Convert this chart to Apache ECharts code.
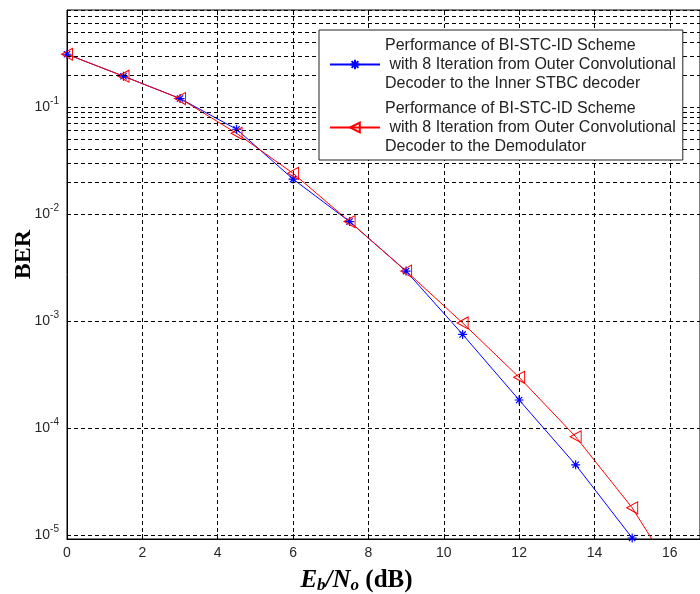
<!DOCTYPE html>
<html lang="en">

<head>
    <meta charset="UTF-8">
    <title>BER</title>
    <style>
        body {
            margin: 0;
            background: #fff;
        }

        .main {
            width: 700px;
            height: 594px;
        }
    </style>
    <script src="https://cdn.jsdelivr.net/npm/echarts@6/dist/echarts.min.js"></script>
</head>

<body>
    <div class="main"></div>
    <script>
        // Eb/No (dB)
        var snrBlue = [0, 1.5, 3, 4.5, 6, 7.5, 9, 10.5, 12, 13.5, 15];
        var snrRed = [0, 1.5, 3, 4.5, 6, 7.5, 9, 10.5, 12, 13.5, 15, 16.5];
        // BER values
        var berBlue = [0.311, 0.194, 0.12, 0.062, 0.0212, 0.0085, 0.00293, 7.5e-4, 1.83e-4, 4.54e-5, 9.4e-6];
        var berRed = [0.311, 0.194, 0.12, 0.0568, 0.024, 0.0085, 0.00293, 9.6e-4, 2.98e-4, 8.3e-5, 1.8e-5, 2.6e-6];
        var xTicks = [0, 2, 4, 6, 8, 10, 12, 14, 16];
        // log grid: 2..9 in every decade
        var minorSteps = [2, 3, 4, 5, 6, 7, 8, 9];
        var decades = [-5, -4, -3, -2, -1];

        var nameBlue = 'Performance of BI-STC-ID Scheme\n with 8 Iteration from Outer Convolutional\nDecoder to the Inner STBC decoder';
        var nameRed = 'Performance of BI-STC-ID Scheme\n with 8 Iteration from Outer Convolutional\nDecoder to the Demodulator';

        var gridDash = {
            color: '#000',
            width: 1,
            type: [4, 3]
        };

        var minorLines = [];
        decades.forEach(function (e) {
            minorSteps.forEach(function (k) {
                minorLines.push({ yAxis: k * Math.pow(10, e) });
            });
        });

        function pairs(xs, ys) {
            return xs.map(function (x, i) { return [x, ys[i]]; });
        }

        var myChart = echarts.init(document.querySelector('.main'));

        var option = {
            animation: false,
            textStyle: { fontFamily: 'Liberation Sans' },
            grid: {
                left: 67,
                right: 0,
                top: 10,
                bottom: 55,
                outerBoundsMode: 'none',
                show: true,
                borderColor: '#000',
                borderWidth: 1
            },
            legend: {
                left: 319,
                top: 30,
                z: 20,
                orient: 'vertical',
                backgroundColor: '#fff',
                borderColor: '#222',
                borderWidth: 1,
                padding: [6, 7, 4, 10],
                itemGap: 6,
                itemWidth: 50,
                itemHeight: 12,
                textStyle: {
                    fontFamily: 'Liberation Sans',
                    fontSize: 16,
                    lineHeight: 19,
                    color: '#222'
                },
                data: [nameBlue, nameRed]
            },
            xAxis: [{
                type: 'value',
                min: 0,
                max: 16.8,
                interval: 2,
                name: '{i|E}{is|b}{i|/N}{is|o}{n| (dB)}',
                nameLocation: 'middle',
                nameGap: 29,
                nameTextStyle: {
                    padding: [0, 54, 0, 0],
                    rich: {
                        i: { fontFamily: 'Liberation Serif', fontStyle: 'italic', fontWeight: 'bold', fontSize: 25, color: '#000' },
                        is: { fontFamily: 'Liberation Serif', fontStyle: 'italic', fontWeight: 'bold', fontSize: 17, color: '#000', padding: [9, 0, 0, 0] },
                        n: { fontFamily: 'Liberation Serif', fontWeight: 'bold', fontSize: 25, color: '#000' }
                    }
                },
                axisLine: { lineStyle: { color: '#000' } },
                axisTick: { inside: true, length: 5, lineStyle: { color: '#000' } },
                axisLabel: {
                    margin: 7,
                    fontSize: 14,
                    color: '#262626',
                    formatter: function (v) {
                        return xTicks.indexOf(v) >= 0 ? String(v) : '';
                    }
                },
                splitLine: { show: true, lineStyle: gridDash }
            }, {
                type: 'value',
                position: 'top',
                min: 0,
                max: 16.8,
                interval: 2,
                axisLine: { show: false },
                axisTick: { inside: true, length: 5, lineStyle: { color: '#000' } },
                axisLabel: { show: false },
                splitLine: { show: false }
            }],
            yAxis: {
                type: 'log',
                logBase: 10,
                min: 9.2e-6,
                max: 0.806,
                name: 'BER',
                nameLocation: 'middle',
                nameGap: 31,
                nameMoveOverlap: false,
                nameRotate: 90,
                nameTextStyle: {
                    fontFamily: 'Liberation Serif',
                    fontWeight: 'bold',
                    fontSize: 24,
                    color: '#000',
                    padding: [0, 0, 0, 40]
                },
                axisLine: { show: true, lineStyle: { color: '#000' } },
                axisTick: { show: false },
                axisLabel: {
                    margin: 8,
                    color: '#262626',
                    formatter: function (v) {
                        var e = Math.log10(v);
                        if (Math.abs(e - Math.round(e)) > 1e-6) return '';
                        return '{b|10}{s|' + Math.round(e) + '}';
                    },
                    rich: {
                        b: { fontSize: 14, color: '#262626' },
                        s: { fontSize: 10, color: '#262626', padding: [0, 0, 11, 0] }
                    }
                },
                splitLine: { show: true, lineStyle: gridDash }
            },
            series: [{
                name: nameBlue,
                type: 'line',
                data: pairs(snrBlue, berBlue),
                symbol: 'path://M5,0L5,10M0,5L10,5M1.5,1.5L8.5,8.5M1.5,8.5L8.5,1.5',
                symbolSize: 9,
                lineStyle: { color: '#0000ff', width: 1 },
                itemStyle: { color: '#0000ff', borderColor: '#0000ff', borderWidth: 1.2 },
                markLine: {
                    silent: true,
                    symbol: ['none', 'none'],
                    label: { show: false },
                    lineStyle: gridDash,
                    emphasis: { disabled: true },
                    data: minorLines
                }
            }, {
                name: nameRed,
                type: 'line',
                data: pairs(snrRed, berRed),
                symbol: 'path://M0,5L10,0L10,10Z',
                symbolSize: [11, 12],
                lineStyle: { color: '#ff0000', width: 1 },
                itemStyle: { color: 'rgba(255,0,0,0)', borderColor: '#ff0000', borderWidth: 1 }
            }]
        };

        myChart.setOption(option);
    </script>
</body>

</html>
